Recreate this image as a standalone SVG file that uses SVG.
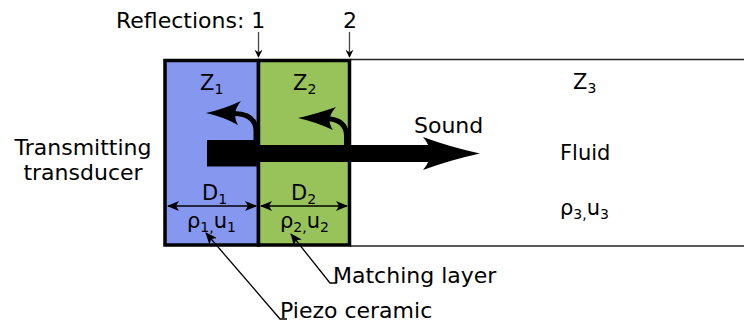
<svg xmlns="http://www.w3.org/2000/svg" width="744" height="324" viewBox="0 0 744 324">
<style>
text{font-family:"DejaVu Sans",sans-serif;font-size:21px;fill:#000}
.lbl{font-size:22px}
.sub{font-size:14px}
.thin{stroke:#000;stroke-width:1.3;fill:none}
.fl{stroke:#222;stroke-width:1.6;fill:none}
</style>
<defs>
<marker id="ah" viewBox="0 0 12 10" refX="11" refY="5" markerWidth="12" markerHeight="10" markerUnits="userSpaceOnUse" orient="auto-start-reverse">
<path d="M0,0 L12,5 L0,10 L3,5 Z" fill="#000"/>
</marker>
<marker id="ahg" viewBox="0 0 10 12" refX="9" refY="6" markerWidth="8" markerHeight="10" markerUnits="userSpaceOnUse" orient="auto">
<path d="M0,1 L10,6 L0,11 L3,6 Z" fill="#000"/>
</marker>
</defs>
<rect width="744" height="324" fill="#fff"/>
<g id="fluid">
<line class="fl" x1="350" y1="59.5" x2="744" y2="59.5"/>
<line class="fl" x1="350" y1="246" x2="744" y2="246"/>
<text x="573" y="89">Z<tspan class="sub" dy="4">3</tspan></text>
<text x="560" y="160">Fluid</text>
<text x="560" y="215">ρ<tspan class="sub" dy="4">3,</tspan><tspan dy="-4">u</tspan><tspan class="sub" dy="4">3</tspan></text>
</g>
<g id="piezo">
<rect x="165" y="60.5" width="93.5" height="184.5" fill="#8597ee" stroke="#000" stroke-width="3.5"/>
<text x="200" y="90">Z<tspan class="sub" dy="4">1</tspan></text>
<text x="202" y="200">D<tspan class="sub" dy="4">1</tspan></text>
<text x="187" y="228">ρ<tspan class="sub" dy="4">1,</tspan><tspan dy="-4">u</tspan><tspan class="sub" dy="4">1</tspan></text>
</g>
<g id="matching">
<rect x="258.5" y="60.5" width="91" height="184.5" fill="#98c35a" stroke="#000" stroke-width="3.5"/>
<text x="293" y="90">Z<tspan class="sub" dy="4">2</tspan></text>
<text x="291" y="200">D<tspan class="sub" dy="4">2</tspan></text>
<text x="280" y="228">ρ<tspan class="sub" dy="4">2,</tspan><tspan dy="-4">u</tspan><tspan class="sub" dy="4">2</tspan></text>
</g>
<g id="labels">
<text class="lbl" x="116" y="28">Reflections: 1</text>
<text class="lbl" x="343" y="28">2</text>
<text class="lbl" x="83" y="155" text-anchor="middle">Transmitting</text>
<text class="lbl" x="83" y="180" text-anchor="middle">transducer</text>
<text class="lbl" x="414" y="133">Sound</text>
<text class="lbl" x="333" y="283">Matching layer</text>
<text class="lbl" x="280" y="318">Piezo ceramic</text>
</g>
<g id="connectors">
<line x1="258.5" y1="32" x2="258.5" y2="57" stroke="#444" stroke-width="1.3" marker-end="url(#ahg)"/>
<line x1="349.5" y1="32" x2="349.5" y2="57" stroke="#444" stroke-width="1.3" marker-end="url(#ahg)"/>
<line class="thin" x1="168" y1="206" x2="256" y2="206" marker-start="url(#ah)" marker-end="url(#ah)"/>
<line class="thin" x1="261" y1="206" x2="347" y2="206" marker-start="url(#ah)" marker-end="url(#ah)"/>
<polyline class="thin" points="337,283 330,283 291,234" marker-end="url(#ah)"/>
<polyline class="thin" points="287,319 280,319 206,233" marker-end="url(#ah)"/>
<rect x="207" y="140" width="52" height="26.5" fill="#000"/>
<path d="M258,145 L438,145 L438,162 L258,162 Z" fill="#000"/>
<path d="M423,137 Q450,147 480,153.5 Q450,160 423,170 Q437,153.5 423,137 Z" fill="#000"/>
<path d="M256,145 L256,131 Q256,114 234,113.5" fill="none" stroke="#000" stroke-width="5"/>
<path d="M206,113 Q224,109 241,101 Q231,113 238,125 Q224,117 206,113 Z" fill="#000"/>
<path d="M346.5,148 L346.5,136 Q346.5,119 325,118.5" fill="none" stroke="#000" stroke-width="5"/>
<path d="M298,118 Q316,114 336,107 Q325,119 333,130 Q316,122 298,118 Z" fill="#000"/>
</g>
</svg>
